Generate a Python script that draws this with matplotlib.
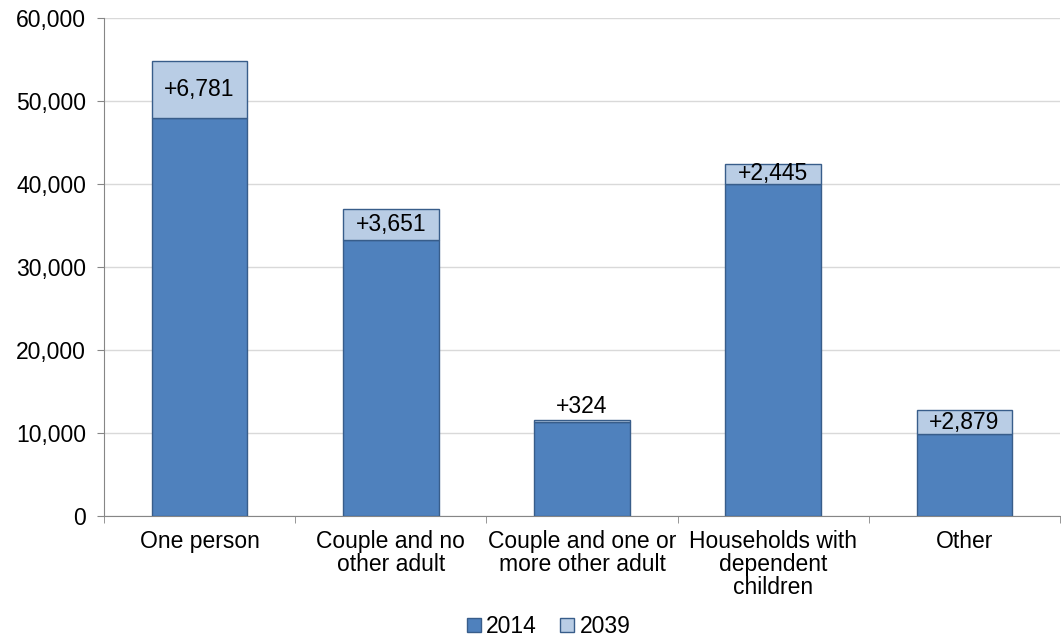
import numpy as np
import matplotlib as mpl
import matplotlib.pyplot as plt
import matplotlib.ticker as ticker

mpl.rcParams['font.family'] = ['Liberation Sans', 'DejaVu Sans']

categories = ['One person', 'Couple and no\nother adult', 'Couple and one or\nmore other adult',
              'Households with\ndependent\nchildren', 'Other']
base_2014 = [48000, 33300, 11300, 40000, 9900]
growth_2039 = [6781, 3651, 324, 2445, 2879]
growth_labels = ['+6,781', '+3,651', '+324', '+2,445', '+2,879']

fig = plt.figure(figsize=(10.61, 6.42), dpi=100)
ax = fig.add_axes([0.098, 0.196, 0.901, 0.776])

x = np.arange(len(categories))
edge = '#385d8a'
ax.bar(x, base_2014, width=0.5, color='#4f81bd', edgecolor=edge, linewidth=1, label='2014', zorder=3)
ax.bar(x, growth_2039, width=0.5, bottom=base_2014, color='#b9cde5', edgecolor=edge, linewidth=1,
       label='2039', zorder=3)

for i in range(len(categories)):
    top = base_2014[i] + growth_2039[i]
    if growth_2039[i] > 1500:
        ax.text(x[i], base_2014[i] + growth_2039[i] / 2, growth_labels[i], ha='center', va='center', fontsize=16.5)
    else:
        ax.text(x[i], top + 200, growth_labels[i], ha='center', va='bottom', fontsize=16.5)

ax.set_xlim(-0.5, len(categories) - 0.5)
ax.set_ylim(0, 60000)
ax.yaxis.set_major_locator(ticker.MultipleLocator(10000))
ax.yaxis.set_major_formatter(ticker.FuncFormatter(lambda v, p: f'{int(v):,}'))
ax.grid(axis='y', color='#d9d9d9', linewidth=1, zorder=0)

ax.set_xticks(x)
ax.set_xticklabels(categories, fontsize=16.5, linespacing=1.0)
ax.set_xticks(np.arange(-0.5, len(categories)), minor=True)
ax.tick_params(axis='x', which='major', length=0, pad=10)
ax.tick_params(axis='x', which='minor', length=5, color='#868686', direction='out')
ax.tick_params(axis='y', length=5, color='#868686', labelsize=16.5, pad=8)

for s in ['top', 'right']:
    ax.spines[s].set_visible(False)
for s in ['left', 'bottom']:
    ax.spines[s].set_color('#868686')

fig.legend(loc='lower center', bbox_to_anchor=(0.517, -0.026), ncol=2, frameon=False, fontsize=16.5,
           handlelength=0.6, handleheight=0.6, handletextpad=0.25, columnspacing=1.0)

plt.savefig('out.png', dpi=100)
